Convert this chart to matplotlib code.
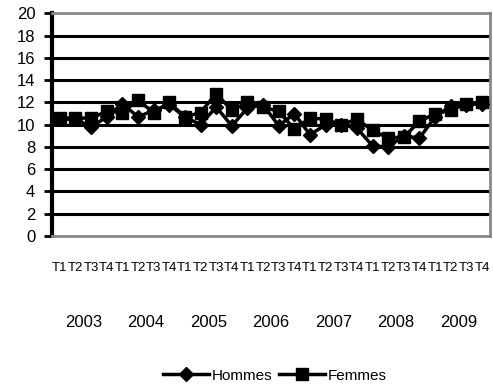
import numpy as np
import matplotlib
matplotlib.use("Agg")
import matplotlib.pyplot as plt
from matplotlib.transforms import blended_transform_factory

plt.rcParams['font.family'] = ['Liberation Sans', 'DejaVu Sans']

# quarterly values, 2003 T1 -> 2009 T4
years = ['2003', '2004', '2005', '2006', '2007', '2008', '2009']
quarters = ['T1', 'T2', 'T3', 'T4']
hommes = [10.5, 10.5, 9.8, 10.7,
          11.9, 10.7, 11.3, 11.8,
          10.7, 10.0, 11.6, 9.9,
          11.5, 11.8, 9.9, 11.0,
          9.1, 10.0, 10.0, 9.7,
          8.1, 8.0, 9.0, 8.8,
          10.7, 11.7, 11.8, 11.9]
femmes = [10.6, 10.6, 10.6, 11.2,
          11.1, 12.2, 11.1, 12.0,
          10.7, 11.1, 12.8, 11.3,
          12.0, 11.6, 11.2, 9.6,
          10.6, 10.5, 10.0, 10.5,
          9.5, 8.8, 8.9, 10.3,
          11.0, 11.3, 11.9, 12.0]

labels = quarters * len(years)
x = np.arange(len(labels))

fig = plt.figure(figsize=(4.93, 3.85), dpi=100)
ax = fig.add_axes([0.1055, 0.387, 0.888, 0.578])

for v in range(2, 20, 2):
    ax.axhline(v, color='black', lw=2.2, zorder=1)

ax.plot(x, hommes, color='black', lw=2.5, marker='D', ms=7.5, label='Hommes', zorder=3)
ax.plot(x, femmes, color='black', lw=2.5, marker='s', ms=8.5, label='Femmes', zorder=3)

ax.set_xlim(-0.5, len(x) - 0.5)
ax.set_ylim(0, 20)
ax.set_yticks(range(0, 21, 2))
ax.tick_params(axis='y', labelsize=12, length=6, width=2, direction='out', pad=6)
ax.set_xticks(x)
ax.set_xticklabels(labels, fontsize=9.5)
ax.tick_params(axis='x', length=0, pad=19)

for side in ['top', 'right', 'bottom']:
    ax.spines[side].set_color('#888888')
    ax.spines[side].set_linewidth(2)
ax.spines['left'].set_color('black')
ax.spines['left'].set_linewidth(3)

trans = blended_transform_factory(ax.transData, ax.transAxes)
for k, yr in enumerate(years):
    ax.text(4 * k + 1.5, -0.387, yr, transform=trans, ha='center', va='center', fontsize=12)

fig.legend(loc='center', bbox_to_anchor=(0.558, 0.024), ncol=2, frameon=False,
           fontsize=11, handlelength=3, columnspacing=0.4, handletextpad=0.2)

fig.savefig('out.png', dpi=100)
